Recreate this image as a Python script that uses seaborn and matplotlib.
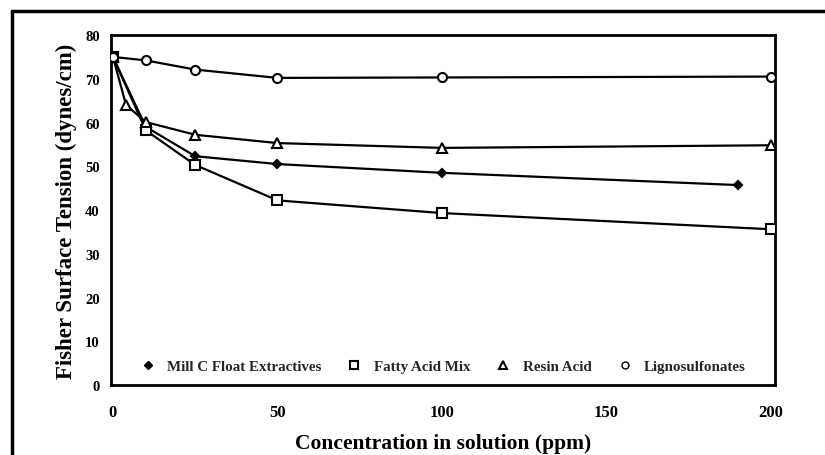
import matplotlib
matplotlib.use("Agg")
import matplotlib.pyplot as plt
from matplotlib.lines import Line2D
import seaborn as sns
import pandas as pd

sns.set_theme(style="white")
plt.rcParams['font.family'] = ['Liberation Serif', 'DejaVu Serif']
plt.rcParams['font.weight'] = 'bold'

series_names = ["Mill C Float Extractives", "Fatty Acid Mix", "Resin Acid", "Lignosulfonates"]

mill_x = [0, 10, 25, 50, 100, 190]
mill_y = [75, 59, 52.3, 50.5, 48.5, 45.7]

fatty_x = [0, 10, 25, 50, 100, 200]
fatty_y = [75, 58.2, 50.3, 42.2, 39.3, 35.6]

resin_x = [0, 4, 10, 25, 50, 100, 200]
resin_y = [75, 64, 60.1, 57.2, 55.3, 54.2, 54.8]

ligno_x = [0, 10, 25, 50, 100, 200]
ligno_y = [75, 74.2, 72.1, 70.2, 70.3, 70.5]

x_ticks = [0, 50, 100, 150, 200]
y_ticks = [0, 10, 20, 30, 40, 50, 60, 70, 80]

frames = []
for name, xs, ys in [(series_names[0], mill_x, mill_y), (series_names[1], fatty_x, fatty_y),
                     (series_names[2], resin_x, resin_y), (series_names[3], ligno_x, ligno_y)]:
    frames.append(pd.DataFrame({"conc": xs, "tension": ys, "series": name}))
df = pd.concat(frames, ignore_index=True)

fig = plt.figure(figsize=(8.25, 4.56), dpi=100)
ax = fig.add_axes([0.1345, 0.1535, 0.805, 0.7675])

styles = {
    series_names[0]: dict(marker="D", ms=4.5, mfc="black"),
    series_names[1]: dict(marker="s", ms=6.5, mfc="white"),
    series_names[2]: dict(marker="^", ms=6.5, mfc="white"),
    series_names[3]: dict(marker="o", ms=6.5, mfc="white"),
}
for name in series_names:
    sub = df[df["series"] == name]
    st = styles[name]
    sns.lineplot(data=sub, x="conc", y="tension", ax=ax, color="black", lw=1.6,
                 marker=st["marker"], markersize=st["ms"], markerfacecolor=st["mfc"],
                 markeredgecolor="black", markeredgewidth=1.5, legend=False, zorder=3)

ax.set_xlim(-0.6, 201.2)
ax.set_ylim(0, 80)
ax.set_xticks(x_ticks)
ax.set_yticks(y_ticks)
ax.set_xticklabels([str(t) for t in x_ticks], fontsize=12, fontweight='bold')
ax.set_yticklabels([str(t) for t in y_ticks], fontsize=10.5, fontweight='bold')
ax.tick_params(axis='x', length=0, pad=14, colors='black')
ax.tick_params(axis='y', length=0, pad=8, colors='black')
for sp in ax.spines.values():
    sp.set_color('black')
    sp.set_linewidth(2)
ax.grid(False)

ax.set_xlabel("Concentration in solution (ppm)", fontsize=15.5, fontweight='bold', labelpad=9, color='black')
ax.set_ylabel("Fisher Surface Tension (dynes/cm)", fontsize=16.5, fontweight='bold', labelpad=6, color='black')

handles = [
    Line2D([], [], ls='none', marker='D', ms=4, mfc='black', mec='black'),
    Line2D([], [], ls='none', marker='s', ms=6, mfc='white', mec='black', mew=1.5),
    Line2D([], [], ls='none', marker='^', ms=6, mfc='white', mec='black', mew=1.5),
    Line2D([], [], ls='none', marker='o', ms=5, mfc='white', mec='black', mew=1),
]
leg = ax.legend(handles, series_names, loc='lower center', ncol=4, frameon=False,
                bbox_to_anchor=(0.5, -0.005), handlelength=1.0, columnspacing=1.7,
                handletextpad=0.8, prop={'family': 'Liberation Serif', 'weight': 'bold', 'size': 10.8})

fig.add_artist(Line2D([12/825, 1.0], [1 - 12/456, 1 - 12/456], transform=fig.transFigure, color='black', lw=2.5))
fig.add_artist(Line2D([12/825, 12/825], [0.0, 1 - 12/456], transform=fig.transFigure, color='black', lw=2.5))

fig.savefig("out.png", dpi=100)
